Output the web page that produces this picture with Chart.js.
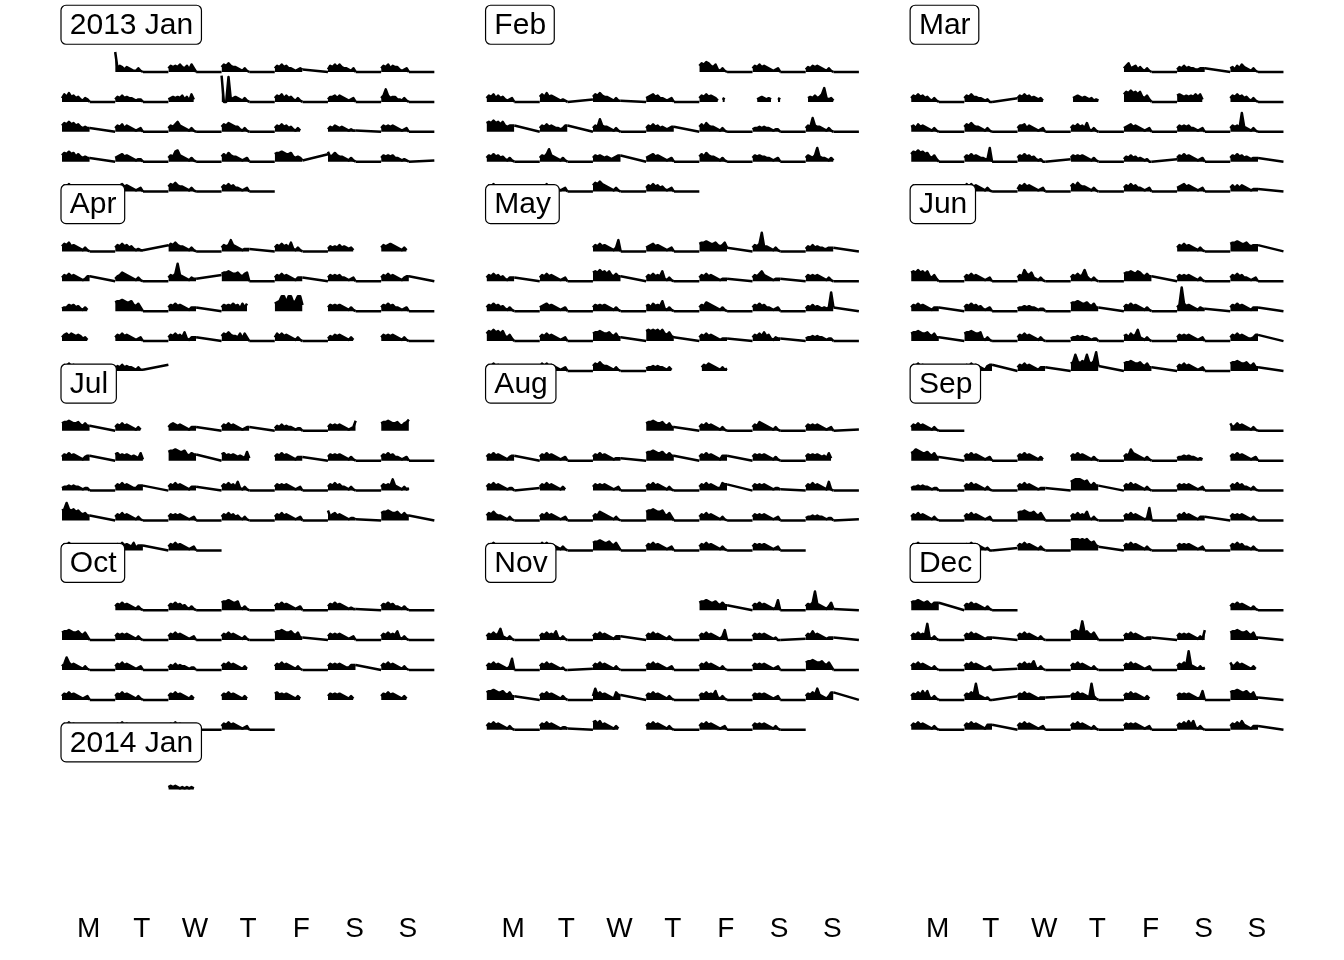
<!DOCTYPE html>
<html>
<head>
<meta charset="utf-8">
<script src="https://cdn.jsdelivr.net/npm/chart.js@4.4.1/dist/chart.umd.min.js"></script>
<style>
  html, body { margin: 0; padding: 0; background: #ffffff; }
  canvas { display: block; }
</style>
</head>
<body>
<canvas id="cal" width="1344" height="960"></canvas>
<script>
// ---- categories ----
const MONTHS = [[2013,0],[2013,1],[2013,2],[2013,3],[2013,4],[2013,5],[2013,6],[2013,7],[2013,8],[2013,9],[2013,10],[2013,11],[2014,0]];
const MONTH_LABELS = ["2013 Jan","Feb","Mar","Apr","May","Jun","Jul","Aug","Sep","Oct","Nov","Dec","2014 Jan"];
const DAY_LABELS = ["M","T","W","T","F","S","S"];

// ---- series values: one string per day, readings for hours 0..12, then the reading at hour 23 ----
// digits 0-9, letters a-z = 10-35, "." = no reading
const jan2013 = [
"g3542432113100","35454643526300","46575443213100","35464533212320","25464643321300","35463544212300",
"36474534213200","24353433212200","234343524162.","l00k2343213100","35463534213100","24453543212300","35a53442213100",
"57686756434330","35463543212300","35468543213100","46576544213100","354645342131.","24354343212110","35454543212300",
"57686746434330","34564543212200","35489543213100","46475443212300","67787667434316","84575443213100","35454533212101",
"35464543212300","34564543212300","46575443213100","35464533212300"];
const feb2013 = [
"57687546213100","35464543212300","24354543213100",
"35463534212300","46474543212102","46575443213110","34564533212300","354645431.32.","..2343232..32.",".3435346b3231.",
"78797868545550","35464543323550","354a5443213100","35464534323440","46475443213100","23343433212200","354b5443213100",
"35464534213100","3546a543213100","35454343234550","34564543212300","46475443213100","35454433212300","35435b4332131.",
"35464543212300","35463543212300","57686543213100","35464534212300"];
const mar2013 = [
"35734524213100","24353433223330","34253643213100",
"35464534213100","35464433212003","354645343231.",".345434323121.","68797868435200","565454546462.","35464534213100",
"45364543213100","46575443213100","35563543212300","35464537213100","34564543212300","35454533212300","35453f43213100",
"68797867435200","35464543322b00","35464534212002","35454543213100","24353423212002","35464543212300","35464534323330",
"35454533212101","36464543213100","25464543212300","46475443213100","35464533212300","34564543212300","35353543212220"];
const apr2013 = [
"46574543213100","35464534212115","46575443213100","35459543212220","35464537213100","243435343231.","354565432131.",
"35464543212440","24576543213100","3546e543213225","67787667546700","35464543213330","35454533212300","35464543213440",
"233545342131.","78898778546300","35464543213330","354546452636.","678cc7cc78cc5.","35454543213100","35464533212300",
"356465454231.","35464543212300","35464537213330","46575443626300","36464543213100","243545432131.","35454543213100",
"35464543213100","24353433213115"];
const may2013 = [
"35464543213900","34564543212300","67787667545730","3546f443213100","24353433223330",
"35464534213330","35464543212300","78797868546440","35464548213100","35464543212220","35468543212220","35454543213100",
"35464534213100","34564543212300","35454543213100","45364548213100","35476543213100","35464533212300","24353432323f30",
"68797868435200","35464543212300","67787667546330","89898979657430","35464543212220","35464745213220","23343433212200",
"35464543212300","36464543212300","46575443213100","233434332131.",".354654321312."];
const jun2013 = [
"35464543213100","67787667545550",
"78797868435200","35464543212300","35496573213100","35464594213100","67787687546440","35454543213100","35464533212300",
"35464543213330","35464534212300","23343433212200","67787667546330","35464543213100","35j64543213220","35464543213330",
"67787667546330","67787667213100","35464543213100","23343433212200","45364593213100","35454543212300","35464543223550",
"35464543213100","35464543214550","35464543213330","67d8687d768f40","67787667546330","35464543212300","67787667546330"];
const jul2013 = [
"67787667546440","354645432131.","35654543213330","35464543212330","24353433212200","3545454321238.","6778766754679.",
"35464543213440","5645454343261.","78898778546550","5645454343272.","35464543213330","35454543213100","35464533212300",
"23343433212200","35464543224440","35464543213330","35464537213100","35454543212300","35464533213100","3545494321312.",
"89e98978656440","35464543213100","35454543212300","35464534213100","35464543212300","83564543212210","67787667546440",
"35464543213100","35464543624440","35464543212300"];
const aug2013 = [
"67787667546330","35464543213100","35476543213100","35454543212301",
"35464543213440","35464543212300","35464543212220","67787667546440","35464543214440","35454543213100","354545434262.",
"35464543212202","354645432131.","35454543212300","35464543213100","35464543226550","35454543212210","35464543217100",
"46575443213100","35464543212300","35476543213100","78898778546300","35464543213100","35454543212300","23343433212201",
"35464543213100","36464543213100","67787667546300","35464543212300","35464543213100","35454543212300"];
const sep2013 = [
"63464543213100",
"67987667546330","35464543212300","354645432131.","35464543213100","35496543213100","233434332121.","35464543212300",
"23343433212200","35464543213100","35464543212220","78999878546440","35464543213100","35454543212300","35464533213100",
"35464543213100","35464543212300","67787667546300","35464547213100","35464543212a00","35464543213330","35454543213100",
"35464543213100","35464543212002","35464543213100","89998989767430","35464543213100","35454543212300","35464533213100",
"35464543213100"];
const oct2013 = [
"35464543213100","35464534213100","67787667213100","35464543212300","35464543212110","35464533213100",
"67787667546300","35454543213100","35464543212300","35464543213100","67787667546220","35454543212300","35464547213100",
"35a64543213100","35464543212300","24353433212200","354645432131.","35464543213100","35454543224440","35464543213100",
"35464543212300","35464543213100","354645432131.","354645432131.","564545432131.","354545432131.","354645432131.",
"35464543213100","35464543213100","35464543213100","35464543212300"];
const nov2013 = [
"67787667546440","35464543212800","3546f543213610",
"35464593213100","35464547213100","35464543213330","35464543213100","35464543213800","35454543212001","35474543212220",
"35464543213900","35464543212001","35464543213100","35464543212300","35464543213100","35454543212300","67787667546300",
"67787667546330","35464543213100","39464543216440","35464543213100","35464547213100","35454543212300","35464943213660",
"35464543213100","35464543212210","675745432131.","35464543213100","35464543212300","35454543213100"];
const dec2013 = [
"35464543213100",
"3546454d213100","35464543212220","35464543213100","67876f67546300","35464543212220","3545454321318.","67787667546220",
"35464543213100","35464543212301","35464547213100","35464543213100","35464543212300","35464f4321312.","634645432131.",
"35464747213100","35464d43212003","35464543212223","354645432d3100","354645432131.","35454543212700","67787667546220",
"35464543213100","35464543214440","35464543212300","35464543213100","35454543212300","35464747213100","35464743213330",
"67787667546660","35464543213100"];
const jan2014 = ["232321212121."];
const SERIES = [jan2013, feb2013, mar2013, apr2013, may2013, jun2013, jul2013, aug2013, sep2013, oct2013, nov2013, dec2013, jan2014];

// ---- calendar frame (layout constants) ----
const COL_W = 7.982;        // width of one month column, in day cells
const ROWS_PER_MONTH = 6;   // label row + 5 week rows
const VAL_UNIT = 1.25 / 29.9;  // value -> row units
const LABEL_ROW = -0.58;

function decode(c) {
  if (c === '.') return null;
  const n = parseInt(c, 36);
  return isNaN(n) ? null : n;
}

const blobSets = [];
const tailPts = [];
MONTHS.forEach(([yr, mo], m) => {
  const col = m % 3, mrow = Math.floor(m / 3);
  const first = (new Date(Date.UTC(yr, mo, 1)).getUTCDay() + 6) % 7; // Monday = 0
  const rows = new Map();
  SERIES[m].forEach((s, i) => {
    const wd = (first + i) % 7;
    let week = Math.floor((first + i) / 7);
    if (week >= 5) week -= 5;
    const base = mrow * ROWS_PER_MONTH + week + 1;
    const x0 = col * COL_W + wd;
    if (!rows.has(base)) rows.set(base, []);
    const chunk = [];
    const blob = s.slice(0, -1), end = s.slice(-1);
    for (let h = 0; h < blob.length; h++) {
      const v = decode(blob[h]);
      chunk.push({ x: x0 + h / 23, y: v === null ? null : base - v * VAL_UNIT });
    }
    chunk.push({ x: x0 + (blob.length - 1) / 23, y: null });
    rows.get(base).push({ x0, chunk });
    const vl = decode(blob[blob.length - 1]);
    const ve = decode(end);
    if (vl !== null && ve !== null) {
      tailPts.push({ x: x0 + (blob.length - 1) / 23, y: base - vl * VAL_UNIT });
      tailPts.push({ x: x0 + 1, y: base - ve * VAL_UNIT });
      tailPts.push({ x: x0 + 1, y: null });
    }
  });
  rows.forEach((chunks, base) => {
    chunks.sort((a, b) => a.x0 - b.x0);
    const pts = [];
    chunks.forEach(c => c.chunk.forEach(p => pts.push(p)));
    blobSets.push({
      label: MONTH_LABELS[m] + ' w' + base,
      data: pts,
      fill: { value: base },
      backgroundColor: '#000000',
      borderColor: '#000000'
    });
  });
});
const datasets = blobSets.concat([{ label: 'overnight', data: tailPts, fill: false, borderColor: '#000000' }]);

const TICK_POS = [];
[0, 1, 2].forEach(c => DAY_LABELS.forEach((d, i) => TICK_POS.push(c * COL_W + i + 0.5)));

const labelPlugin = {
  id: 'monthLabels',
  afterDatasetsDraw(chart) {
    const { ctx } = chart;
    const xs = chart.scales.x, ys = chart.scales.y;
    ctx.save();
    ctx.font = '30px "Liberation Sans", Arial, Helvetica, sans-serif';
    ctx.textBaseline = 'middle';
    ctx.textAlign = 'left';
    MONTH_LABELS.forEach((txt, m) => {
      const col = m % 3, mrow = Math.floor(m / 3);
      const left = xs.getPixelForValue(col * COL_W) - 1;
      const cy = ys.getPixelForValue(mrow * ROWS_PER_MONTH + LABEL_ROW);
      const w = ctx.measureText(txt).width + 17;
      const h = 39;
      ctx.beginPath();
      ctx.roundRect(left, cy - h / 2, w, h, 5);
      ctx.fillStyle = '#ffffff';
      ctx.fill();
      ctx.lineWidth = 1.2;
      ctx.strokeStyle = '#000000';
      ctx.stroke();
      ctx.fillStyle = '#000000';
      ctx.fillText(txt, left + 8.8, cy + 1);
    });
    ctx.restore();
  }
};

const X_MIN = -1.1656, X_MAX = 24.102;
const Y_MIN = -1.408, Y_MAX = 28.692;

new Chart(document.getElementById('cal'), {
  type: 'line',
  data: { datasets },
  options: {
    responsive: false,
    animation: false,
    devicePixelRatio: 1,
    parsing: false,
    spanGaps: false,
    layout: { padding: 0 },
    plugins: { legend: { display: false }, tooltip: { enabled: false } },
    elements: {
      point: { radius: 0, hoverRadius: 0 },
      line: { borderColor: '#000000', borderWidth: 2.5, tension: 0,
              borderJoinStyle: 'round', borderCapStyle: 'butt' }
    },
    scales: {
      x: {
        type: 'linear', position: 'bottom', min: X_MIN, max: X_MAX,
        grid: { display: false, drawTicks: false },
        border: { display: false },
        afterBuildTicks: (s) => { s.ticks = TICK_POS.map(v => ({ value: v })); },
        afterFit: (s) => { s.height = 60; },
        ticks: {
          autoSkip: false, maxRotation: 0, minRotation: 0, padding: 12,
          color: '#000000',
          font: { family: '"Liberation Sans", Arial, Helvetica, sans-serif', size: 28 },
          callback: (v, i) => DAY_LABELS[i % 7]
        }
      },
      y: { type: 'linear', reverse: true, min: Y_MIN, max: Y_MAX, display: false }
    }
  },
  plugins: [labelPlugin]
});
</script>
</body>
</html>
